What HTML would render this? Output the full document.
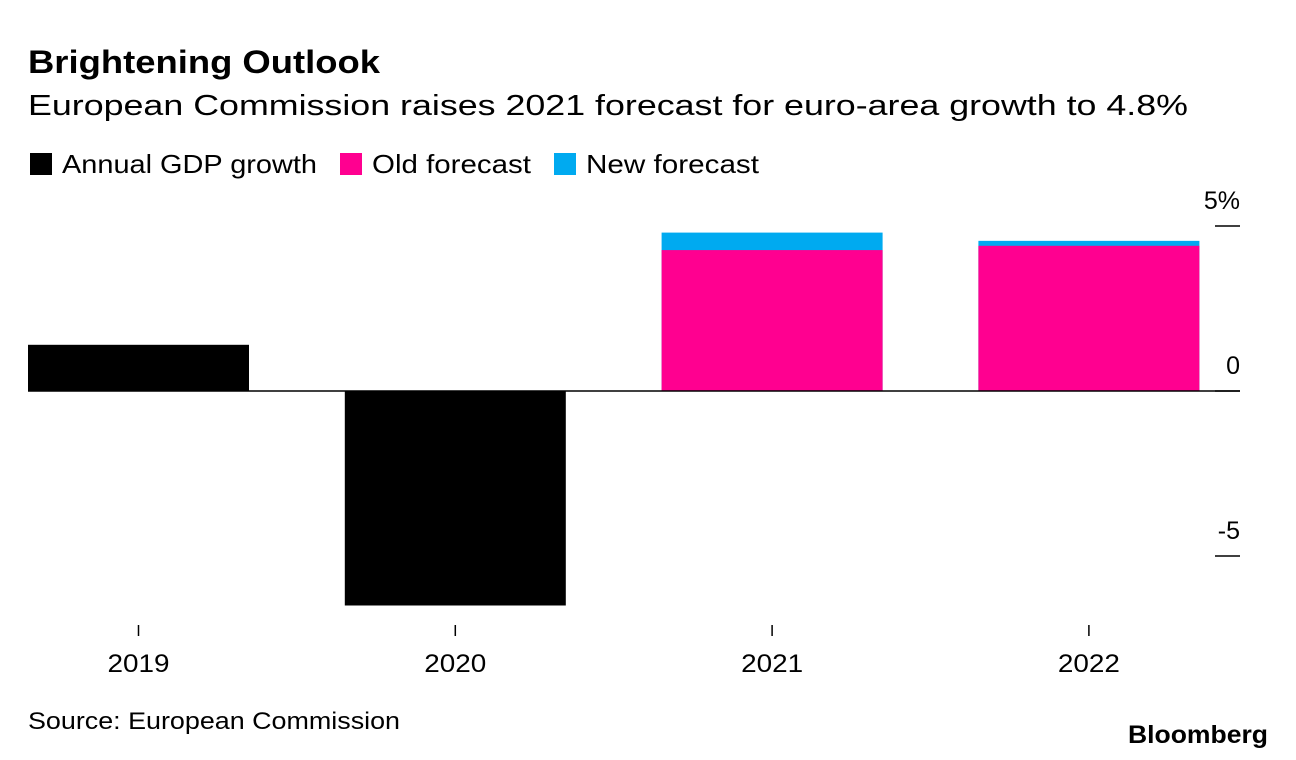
<!DOCTYPE html>
<html><head><meta charset="utf-8"><style>
body{margin:0;width:1296px;height:760px;background:#fff;font-family:"Liberation Sans",Arial,sans-serif;color:#000;overflow:hidden}
svg{position:absolute;left:0;top:0}
</style></head><body>
<svg width="1296" height="760">
<text x="28" y="73" font-size="32" font-weight="bold" textLength="352" lengthAdjust="spacingAndGlyphs">Brightening Outlook</text>
<text x="28" y="115" font-size="29" textLength="1160" lengthAdjust="spacingAndGlyphs">European Commission raises 2021 forecast for euro-area growth to 4.8%</text>
<g>
<rect x="30" y="153" width="22" height="22" fill="#000"/>
<text x="62" y="173" font-size="26" textLength="255" lengthAdjust="spacingAndGlyphs">Annual GDP growth</text>
<rect x="340" y="153" width="22" height="22" fill="#ff0090"/>
<text x="372" y="173" font-size="26" textLength="159" lengthAdjust="spacingAndGlyphs">Old forecast</text>
<rect x="554" y="153" width="22" height="22" fill="#00aaf0"/>
<text x="586" y="173" font-size="26" textLength="173" lengthAdjust="spacingAndGlyphs">New forecast</text>
</g>
<g id="plot"></g>
<text x="28" y="729" font-size="24" textLength="372" lengthAdjust="spacingAndGlyphs">Source: European Commission</text>
<text x="1128" y="743" font-size="25" font-weight="bold" textLength="140" lengthAdjust="spacingAndGlyphs">Bloomberg</text>
</svg>
<script>
const categories=["2019","2020","2021","2022"];
const gdp=[1.4,-6.5,null,null];
const oldForecast=[null,null,4.27,4.4];
const newForecast=[null,null,4.8,4.55];
const yTicks=[5,0,-5];
const yTickLabels=["5%","0","-5"];
const NS="http://www.w3.org/2000/svg";
const g=document.getElementById("plot");
const y=v=>391-v*33;
const xc=i=>138.5+i*316.8;
const bw=221;
function mk(tag,attrs){const e=document.createElementNS(NS,tag);for(const k in attrs)e.setAttribute(k,attrs[k]);g.appendChild(e);return e;}
function bar(i,v,color,name){
  const top=Math.min(y(v),y(0)),h=Math.abs(y(v)-y(0));
  const r=mk("rect",{x:xc(i)-bw/2,y:top,width:bw,height:h,fill:color});
  
  
}
categories.forEach((c,i)=>{
  if(newForecast[i]!=null)bar(i,newForecast[i],"#00aaf0","bar-new-"+c);
  if(oldForecast[i]!=null)bar(i,oldForecast[i],"#ff0090","bar-old-"+c);
  if(gdp[i]!=null)bar(i,gdp[i],"#000","bar-gdp-"+c);
  const t=mk("line",{x1:xc(i),x2:xc(i),y1:625,y2:636,stroke:"#000","stroke-width":1.5});
  
  
  const l=mk("text",{x:xc(i)-31,y:672,"font-size":25,textLength:62,lengthAdjust:"spacingAndGlyphs"});
  l.textContent=c;
  
  
});
const ax=mk("line",{x1:28,x2:1240,y1:y(0),y2:y(0),stroke:"#000","stroke-width":1.5});


yTicks.forEach((v,i)=>{
  const t=mk("line",{x1:1215,x2:1240,y1:y(v),y2:y(v),stroke:"#000","stroke-width":1.5});
  
  
  const l=mk("text",{x:1240,y:y(v)-17,"font-size":25,"text-anchor":"end"});
  l.textContent=yTickLabels[i];
  
  
});
</script>
</body></html>
